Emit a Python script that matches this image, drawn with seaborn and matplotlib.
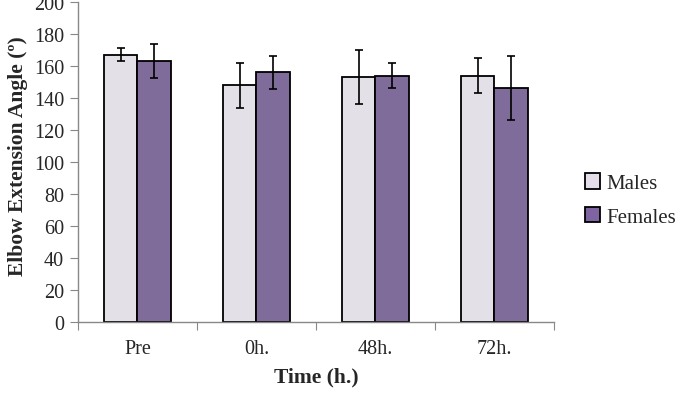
import matplotlib
matplotlib.use("Agg")
import matplotlib.pyplot as plt
from matplotlib.patches import Patch
import seaborn as sns
import pandas as pd
import numpy as np

times = ["Pre", "0h.", "48h.", "72h."]
males_mean = [167, 148, 153, 154]
males_err = [4, 14, 17, 11]
females_mean = [163, 156, 154, 146]
females_err = [10.5, 10.5, 8, 20]
y_ticks = list(range(0, 201, 20))

df = pd.DataFrame({
    "time": times * 2,
    "angle": males_mean + females_mean,
    "sex": ["Males"] * 4 + ["Females"] * 4,
})
errs = {"Males": males_err, "Females": females_err}

sns.set_style("white")
plt.rcParams["font.family"] = ["Liberation Serif", "DejaVu Serif"]

fig = plt.figure(figsize=(6.8, 4.02), dpi=100)
ax = fig.add_axes([0.1147, 0.1965, 0.70, 0.796])

palette = {"Males": "#E3DEEA", "Females": "#7F64A2"}
sns.barplot(data=df, x="time", y="angle", hue="sex", order=times,
            hue_order=["Males", "Females"], palette=palette,
            edgecolor="black", linewidth=1.3, width=0.57,
            errorbar=None, ax=ax, legend=False)

# error bars from the bar geometry
for cont, sex in zip(ax.containers, ["Males", "Females"]):
    xs = [b.get_x() + b.get_width() / 2 for b in cont]
    hs = [b.get_height() for b in cont]
    ax.errorbar(xs, hs, yerr=errs[sex], fmt="none", ecolor="black",
                elinewidth=1.2, capsize=2.6, capthick=1.2)

ax.set_ylim(0, 200)
ax.set_yticks(y_ticks)
ax.set_xlim(-0.5, 3.5)
ax.set_xticks(np.arange(-0.5, 4.0, 1.0))
ax.set_xticklabels([])
ax.set_xticks(range(len(times)), minor=True)
ax.set_xticklabels(times, minor=True)
ax.tick_params(axis="x", which="major", length=6, color="#888888", direction="out", bottom=True)
ax.tick_params(axis="x", which="minor", length=0, pad=12, labelsize=14.5)
ax.tick_params(axis="y", length=6, color="#888888", direction="out", left=True, labelsize=14.5, pad=4)

for side in ["top", "right"]:
    ax.spines[side].set_visible(False)
for side in ["left", "bottom"]:
    ax.spines[side].set_color("#888888")
    ax.spines[side].set_linewidth(1.0)

ax.set_xlabel("Time (h.)", fontsize=15.5, fontweight="bold", labelpad=6)
ax.set_ylabel("Elbow Extension Angle (º)", fontsize=15.5, fontweight="bold")
ax.yaxis.set_label_coords(-0.105, 0.52)

handles = [Patch(facecolor=palette[s], edgecolor="black", linewidth=1.3, label=s)
           for s in ["Males", "Females"]]
fig.legend(handles=handles, loc="center left", bbox_to_anchor=(0.860, 0.500),
           frameon=False, fontsize=15, handlelength=0.75, handleheight=0.75,
           handletextpad=0.3, labelspacing=0.65, borderpad=0, borderaxespad=0)

fig.savefig("out.png", dpi=100)
